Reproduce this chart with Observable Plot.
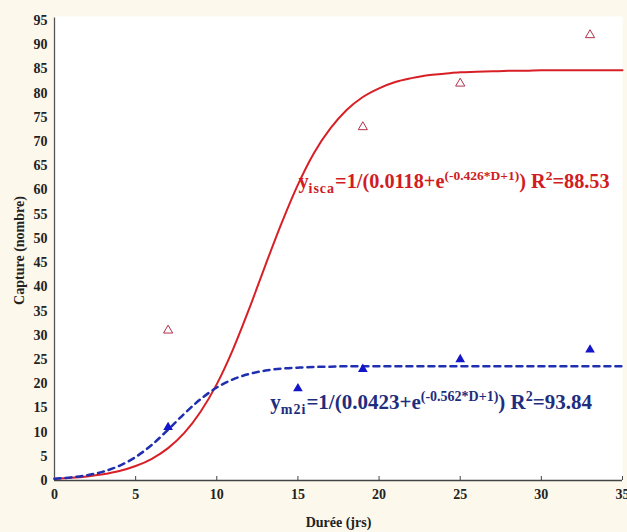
<!DOCTYPE html>
<html>
<head>
<meta charset="utf-8">
<script src="https://cdn.jsdelivr.net/npm/d3@7"></script>
<script src="https://cdn.jsdelivr.net/npm/@observablehq/plot@0.6"></script>
<style>
  html, body { margin: 0; padding: 0; background: #fcf8ec; }
  #chart svg { display: block; background: #fcf8ec; }
  #chart svg text { font-family: 'Liberation Serif', 'Times New Roman', serif; }
</style>
</head>
<body>
<div id="chart"></div>
<script>
// Observed captures (Durée in days)
const obsDays = [7, 19, 25, 33];
const iscaObs = [31, 73, 82, 92];
const m2iDays = [7, 15, 19, 25, 33];
const m2iObs = [11, 19, 23, 25, 27];

// Fitted curves
const curveDays = [0,1,2,3,4,5,6,7,8,9,10,11,12,13,14,15,16,17,18,19,20,21,22,23,24,25,26,27,28,29,30,31,32,33,34,35];
const iscaFit = [0.37,0.56,0.85,1.3,1.97,2.99,4.49,6.68,9.82,14.2,19.9,27.1,35.5,44.5,53.2,61.1,67.7,72.7,76.5,79.2,81.0,82.3,83.1,83.7,84.0,84.3,84.4,84.5,84.6,84.6,84.7,84.7,84.7,84.7,84.7,84.7];
const m2iFit = [0.36,0.63,1.08,1.83,3.04,4.85,7.37,10.5,13.8,16.8,19.2,20.9,22.0,22.7,23.1,23.3,23.45,23.5,23.6,23.6,23.6,23.6,23.6,23.6,23.6,23.6,23.6,23.6,23.6,23.6,23.6,23.6,23.6,23.6,23.6,23.6];

// Tick labels
const xTicks = [0, 5, 10, 15, 20, 25, 30, 35];
const yTicks = [0,5,10,15,20,25,30,35,40,45,50,55,60,65,70,75,80,85,90,95];

// Equations
const eqIsca = {sub: "isca", mid: "=1/(0.0118+e", sup: "(-0.426*D+1)", r2: "=88.53"};
const eqM2i = {sub: "m2i", mid: "=1/(0.0423+e", sup: "(-0.562*D+1)", r2: "=93.84"};

const iscaCurve = curveDays.map((d, i) => ({d, v: iscaFit[i]}));
const m2iCurve = curveDays.map((d, i) => ({d, v: m2iFit[i]}));
const iscaPts = obsDays.map((d, i) => ({d, v: iscaObs[i]}));
const m2iPts = m2iDays.map((d, i) => ({d, v: m2iObs[i]}));

const font = "'Liberation Serif', 'Times New Roman', serif";

const chart = Plot.plot({
  width: 627,
  height: 532,
  marginLeft: 54,
  marginRight: 5,
  marginTop: 20,
  marginBottom: 52,
  style: `font-family: ${font}; font-weight: bold; font-size: 14px; color: #222; background: #fcf8ec;`,
  x: {domain: [0, 35]},
  y: {domain: [0, 95]},
  marks: [
    Plot.frame({fill: "white", stroke: "none", insetTop: -4}),
    Plot.axisX({ticks: xTicks, tickSize: -4, tickPadding: 13, stroke: "#444", fontSize: 14, fontFamily: font,
      label: "Durée (jrs)", labelAnchor: "center", labelOffset: 46, labelArrow: false}),
    Plot.axisY({ticks: yTicks, tickSize: 0, tickPadding: 7, fontSize: 14, fontFamily: font,
      label: "Capture (nombre)", labelAnchor: "center", labelOffset: 40, labelArrow: false}),
    Plot.ruleX([0], {y1: 0, y2: 95.5, stroke: "#555", strokeWidth: 1.3}),
    Plot.ruleY([0], {stroke: "#444", strokeWidth: 1.6}),
    Plot.line(iscaCurve, {x: "d", y: "v", curve: "monotone-x", stroke: "#d81f26", strokeWidth: 2}),
    Plot.line(m2iCurve, {x: "d", y: "v", curve: "monotone-x", stroke: "#1f2fb0", strokeWidth: 2.5, strokeDasharray: "6,5"}),
    Plot.dot(iscaPts, {x: "d", y: "v", symbol: "triangle", r: 3.4, stroke: "#b3304a", strokeWidth: 1, fill: "none"}),
    Plot.dot(m2iPts, {x: "d", y: "v", symbol: "triangle", r: 3.6, fill: "#1414c8", stroke: "none"})
  ]
});

document.getElementById("chart").appendChild(chart);

// Equation annotations placed through the chart's scales
const sx = chart.scale("x"), sy = chart.scale("y");
const svg = d3.select(chart);
function equation(eq, xv, yv, color, size, small) {
  const t = svg.append("text")
    .attr("x", sx.apply(xv)).attr("y", sy.apply(yv))
    .attr("text-anchor", "start")
    .attr("fill", color).attr("font-family", font).attr("font-weight", "bold")
    .attr("font-size", size);
  t.append("tspan").text("y");
  t.append("tspan").attr("font-size", 14).attr("dy", 5).attr("letter-spacing", 1).text(eq.sub);
  t.append("tspan").attr("dy", -5).text(eq.mid);
  t.append("tspan").attr("font-size", small).attr("dy", -8).text(eq.sup);
  t.append("tspan").attr("dy", 8).text(") R");
  t.append("tspan").attr("font-size", small).attr("dy", -8).text("2");
  t.append("tspan").attr("dy", 8).text(eq.r2);
}
equation(eqIsca, 15.06, 60.3, "#d01c22", 20.3, 13.5);
equation(eqM2i, 13.33, 14.6, "#1e2d7d", 21, 14);
</script>
</body>
</html>
